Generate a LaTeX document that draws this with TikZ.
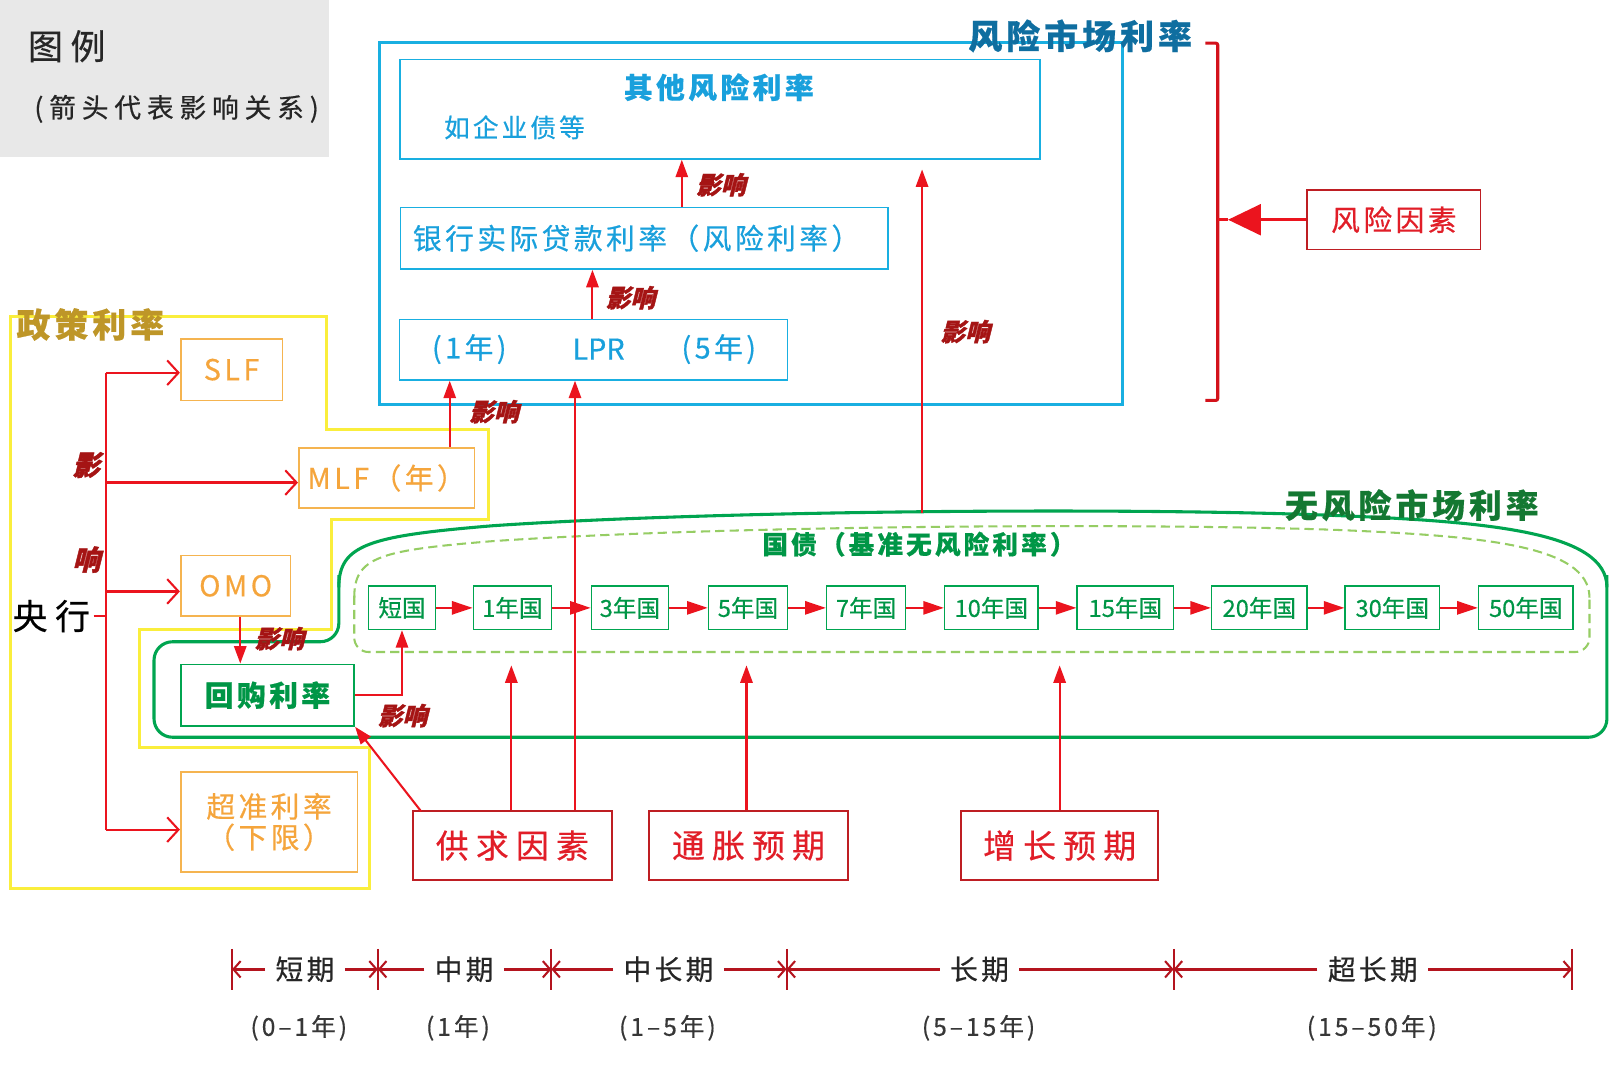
\documentclass[tikz,border=0pt]{standalone}
\usepackage{fontspec}
\setmainfont[FakeBold=0.5]{Noto Sans CJK SC}
\newfontfamily\cjksp[LetterSpace=12,FakeBold=0.5]{Noto Sans CJK SC}
\newfontfamily\cjkwide[LetterSpace=22,FakeBold=0.5]{Noto Sans CJK SC}
\newfontfamily\inflfont[FakeSlant=0.25,FakeBold=1.5]{Noto Sans CJK SC}
\usetikzlibrary{arrows.meta,calc}
\newcommand\fsz[1]{\fontsize{#1}{#1}\selectfont}
\definecolor{legendgray}{RGB}{232,232,232}
\definecolor{cyanline}{RGB}{25,175,225}
\definecolor{cyantext}{RGB}{25,160,220}
\definecolor{bluetitle}{RGB}{15,110,160}
\definecolor{yelline}{RGB}{250,238,60}
\definecolor{orangeline}{RGB}{245,180,80}
\definecolor{orangetext}{RGB}{245,165,60}
\definecolor{goldtitle}{RGB}{190,150,40}
\definecolor{greenline}{RGB}{0,165,80}
\definecolor{greentext}{RGB}{0,150,70}
\definecolor{darkgreen}{RGB}{20,120,50}
\definecolor{dashgreen}{RGB}{150,205,100}
\definecolor{arrowred}{RGB}{235,20,30}
\definecolor{labelred}{RGB}{165,20,20}
\definecolor{boxred}{RGB}{190,30,35}
\definecolor{textred}{RGB}{225,30,40}
\definecolor{tlred}{RGB}{180,20,30}
\definecolor{graytext}{RGB}{55,55,55}
\tikzset{
  cbox/.style={draw=cyanline, line width=1.6pt, inner sep=0pt},
  obox/.style={draw=orangeline, line width=1.6pt, inner sep=0pt, text=orangetext, font=\cjksp\fsz{28}, align=center},
  gbox/.style={draw=greenline, line width=1.6pt, inner sep=0pt, text=greentext, minimum height=42pt},
  rbox/.style={draw=boxred, line width=1.6pt, inner sep=0pt, text=textred, font=\cjkwide\fsz{32}},
  redarrow/.style={draw=arrowred, line width=2pt, -{Triangle[length=17pt,width=12pt]}},
  chain/.style={draw=arrowred, line width=1.5pt, -{Triangle[length=20pt,width=13pt]}},
  branch/.style={draw=arrowred, line width=2.2pt, -{Straight Barb[length=11pt,width=24pt,line width=2pt]}},
  infl/.style={text=labelred, font=\inflfont\bfseries\fsz{24}, inner sep=0pt},
  tl/.style={draw=tlred, line width=3pt, -{Straight Barb[length=7pt,width=16pt,line width=2pt]}},
  tllabel/.style={font=\cjksp\fsz{27}, text=black!85, inner sep=10pt},
  tlsub/.style={font=\cjksp\fsz{24}, text=graytext},
}
\begin{document}
\begin{tikzpicture}[x=1pt,y=-1pt]
\useasboundingbox (0,0) rectangle (1568,1042);
\fill[white] (0,0) rectangle (1568,1042);

% legend
\node[fill=legendgray, minimum width=320pt, minimum height=153pt, anchor=north west, inner sep=0pt] (legend) at (0,0) {};
\node[font=\cjkwide\fsz{34}, text=black!85] (lgt) at (65,45) {图例};
\node[font=\cjkwide\fsz{26}, text=black!85] (lgs) at (172,106) {(箭头代表影响关系)};

% ---------- risk market region ----------
\node[draw=cyanline, line width=3pt, minimum width=724pt, minimum height=352pt, anchor=north west, inner sep=0pt] (riskbox) at (368,40) {};
\node[cbox, minimum width=623pt, minimum height=97pt, anchor=north west] (otherbox) at (389,57) {};
\node[font=\cjksp\bfseries\fsz{28}, text=cyantext] (othert) at (700,85) {其他风险利率};
\node[font=\cjksp\fsz{25}, text=cyantext] (othersub) at (501,124) {如企业债等};
\node[cbox, minimum width=475pt, minimum height=60pt] (bankbox) at (627.5,232) {};
\node[font=\cjksp\fsz{28}, text=cyantext] (bankt) at (620,232) {银行实际贷款利率（风险利率）};
\node[cbox, minimum width=378pt, minimum height=59pt] (lprbox) at (578,340.5) {};
\node[font=\cjksp\fsz{28}, text=cyantext] (lpr1) at (457,340) {(1年)};
\node[font=\fsz{28}, text=cyantext] (lpr2) at (583,340) {LPR};
\node[font=\cjksp\fsz{28}, text=cyantext] (lpr5) at (700,340) {(5年)};

% risk factor + bracket
\node[rbox, font=\cjksp\fsz{28}, minimum width=169pt, minimum height=58pt] (riskf) at (1357.5,214) {风险因素};
\coordinate (brtop) at (1174,42);
\coordinate (brbot) at (1174,390);
\coordinate (brmid) at (1196,214);
\draw[draw=arrowred!90!black, line width=3pt, rounded corners=2pt] (brtop) -- (1186,42) -- (1186,390) -- (brbot);
\draw[draw=arrowred, line width=3pt] (1186,214) -- (brmid);
\draw[draw=arrowred, line width=3pt, -{Triangle[length=32pt,width=30pt]}] (riskf.west) -- (brmid);

% ---------- policy rate region ----------
\draw[yelline, line width=3pt] (10,308) -- (318,308) -- (318,418) -- (476,418) -- (476,506) -- (323,506) -- (323,613) -- (136,613) -- (136,728) -- (360,728) -- (360,865) -- (10,865) -- cycle;

% ---------- risk-free region ----------
\draw[greenline, line width=3pt, rounded corners=18pt]
  (330,560) -- (330,625) -- (150,625) -- (150,718) -- (1565,718) -- (1565,560);
\draw[greenline, line width=3pt]
  (330,572) .. controls (330,530) and (360,522) .. (480,512)
  .. controls (700,497) and (1100,494) .. (1300,502)
  .. controls (1450,508) and (1565,518) .. (1565,572);
\draw[dashgreen, line width=2pt, dash pattern=on 9pt off 5pt, rounded corners=14pt]
  (345,580) -- (345,635) -- (1548,635) -- (1548,580);
\draw[dashgreen, line width=2pt, dash pattern=on 9pt off 5pt]
  (345,582) .. controls (345,542) and (370,536) .. (480,527)
  .. controls (700,512) and (1100,509) .. (1300,516)
  .. controls (1440,522) and (1548,530) .. (1548,582);

% orange policy boxes
\node[obox, minimum width=99pt, minimum height=60pt] (slf) at (225.5,360) {SLF};
\node[obox, minimum width=171pt, minimum height=59pt] (mlf) at (376.5,465.5) {MLF（年）};
\node[obox, minimum width=107pt, minimum height=59pt] (omo) at (229.5,570.5) {OMO};
\node[obox, minimum width=172pt, minimum height=97pt, font=\cjksp\fsz{28}] (excess) at (262,800.5) {超准利率\\[2pt]（下限）};

% central bank
\node[font=\cjkwide\fsz{34}, text=black] (cb) at (50,600) {央行};
\coordinate (trtop) at (103,363);
\coordinate (trbot) at (103,808);
\coordinate (trmid) at (103,600);
\coordinate (tr2) at (103,470);
\coordinate (tr3) at (103,576);
\draw[arrowred, line width=2.2pt] (trtop) -- (trbot);
\draw[arrowred, line width=2.2pt] (cb.east) -- (trmid);
\draw[branch] (trtop) -- (slf.west |- trtop);
\draw[branch] (tr2) -- (mlf.west |- tr2);
\draw[branch] (tr3) -- (omo.west |- tr3);
\draw[branch] (trbot) -- (excess.west |- trbot);
\node[infl, font=\inflfont\bfseries\fsz{27}] (ying) at (84,453) {影};
\node[infl, font=\inflfont\bfseries\fsz{27}] (xiang) at (84,545) {响};

% repo
\node[gbox, minimum width=169pt, minimum height=60pt, font=\cjksp\bfseries\fsz{28}] (repo) at (260.5,677) {回购利率};

% bonds
\begin{scope}[every node/.style={gbox, font=\fsz{23}}]
\node[minimum width=65pt] (b0) at (391.5,592) {短国};
\node[minimum width=76pt] (b1) at (499,592) {1年国};
\node[minimum width=75pt] (b2) at (613.5,592) {3年国};
\node[minimum width=77pt] (b3) at (728.5,592) {5年国};
\node[minimum width=77pt] (b4) at (843.5,592) {7年国};
\node[minimum width=91pt] (b5) at (965.5,592) {10年国};
\node[minimum width=94pt] (b6) at (1096,592) {15年国};
\node[minimum width=93pt] (b7) at (1226.5,592) {20年国};
\node[minimum width=92pt] (b8) at (1356,592) {30年国};
\node[minimum width=92pt] (b9) at (1486,592) {50年国};
\end{scope}
\foreach \a/\b in {b0/b1,b1/b2,b2/b3,b3/b4,b4/b5,b5/b6,b6/b7,b7/b8,b8/b9}
  \draw[chain] (\a.east) -- (\b.west);

% red factor boxes
\node[rbox, minimum width=194pt, minimum height=67pt] (supply) at (499,823.5) {供求因素};
\node[rbox, minimum width=194pt, minimum height=67pt] (inflation) at (729,823.5) {通胀预期};
\node[rbox, minimum width=192pt, minimum height=67pt] (growth) at (1032,823.5) {增长预期};

% influence arrows
\coordinate (xa) at (664,0);
\coordinate (xb) at (577,0);
\coordinate (xc) at (438,0);
\coordinate (xd) at (560,0);
\coordinate (xe) at (234,0);
\coordinate (xf) at (498,0);
\coordinate (xg) at (727,0);
\coordinate (xh) at (1032,0);
\coordinate (gtop) at (898,500);
\coordinate (gend) at (898,165);
\coordinate (e1) at (498,648);
\coordinate (e2) at (727,648);
\coordinate (e3) at (1032,648);
\coordinate (sup1) at (410,790);
\draw[redarrow] (bankbox.north -| xa) -- (otherbox.south -| xa);
\draw[redarrow] (lprbox.north -| xb) -- (bankbox.south -| xb);
\draw[redarrow] (mlf.north -| xc) -- (lprbox.south -| xc);
\draw[redarrow] (supply.north -| xd) -- (lprbox.south -| xd);
\draw[redarrow] (gtop) -- (gend);
\draw[redarrow] (omo.south -| xe) -- (repo.north -| xe);
\draw[redarrow] (repo.east) -| (b0.south);
\draw[redarrow] (sup1) -- (repo.south east);
\draw[redarrow] (supply.north -| xf) -- (e1);
\draw[redarrow] (inflation.north -| xg) -- (e2);
\draw[redarrow] (growth.north -| xh) -- (e3);

\node[infl] (l1) at (702,180) {影响};
\node[infl] (l2) at (614,290) {影响};
\node[infl] (l3) at (940,323) {影响};
\node[infl] (l4) at (481,401) {影响};
\node[infl] (l5) at (272,622) {影响};
\node[infl] (l6) at (392,697) {影响};

% region titles (over lines)
\node[font=\cjksp\bfseries\fsz{33}, text=bluetitle] (risktitle) at (1052,35) {风险市场利率};
\node[font=\cjksp\bfseries\fsz{33}, text=goldtitle] (poltitle) at (88,316) {政策利率};
\node[font=\cjksp\bfseries\fsz{32}, text=darkgreen] (rftitle) at (1375,492) {无风险市场利率};
\node[font=\cjksp\bfseries\fsz{25}, text=greentext] (govtitle) at (895,530) {国债（基准无风险利率）};

% timeline
\foreach \i/\x in {0/226,1/368,2/537,3/766,4/1143,5/1531} {
  \coordinate (t\i) at (\x,944);
  \draw[tlred, line width=2pt] (\x,924) -- (\x,964);
}
\node[tllabel] (p0) at (297,944) {短期};
\node[tllabel] (p1) at (452,944) {中期};
\node[tllabel] (p2) at (651,944) {中长期};
\node[tllabel] (p3) at (954,944) {长期};
\node[tllabel] (p4) at (1337,944) {超长期};
\draw[tl] (p0.west) -- (t0); \draw[tl] (p0.east) -- (t1);
\draw[tl] (p1.west) -- (t1); \draw[tl] (p1.east) -- (t2);
\draw[tl] (p2.west) -- (t2); \draw[tl] (p2.east) -- (t3);
\draw[tl] (p3.west) -- (t3); \draw[tl] (p3.east) -- (t4);
\draw[tl] (p4.west) -- (t4); \draw[tl] (p4.east) -- (t5);
\node[tlsub] (s0) at (291,1001) {(0–1年)};
\node[tlsub] (s1) at (446,1001) {(1年)};
\node[tlsub] (s2) at (650,1001) {(1–5年)};
\node[tlsub] (s3) at (953,1001) {(5–15年)};
\node[tlsub] (s4) at (1336,1001) {(15–50年)};
\end{tikzpicture}
\end{document}
